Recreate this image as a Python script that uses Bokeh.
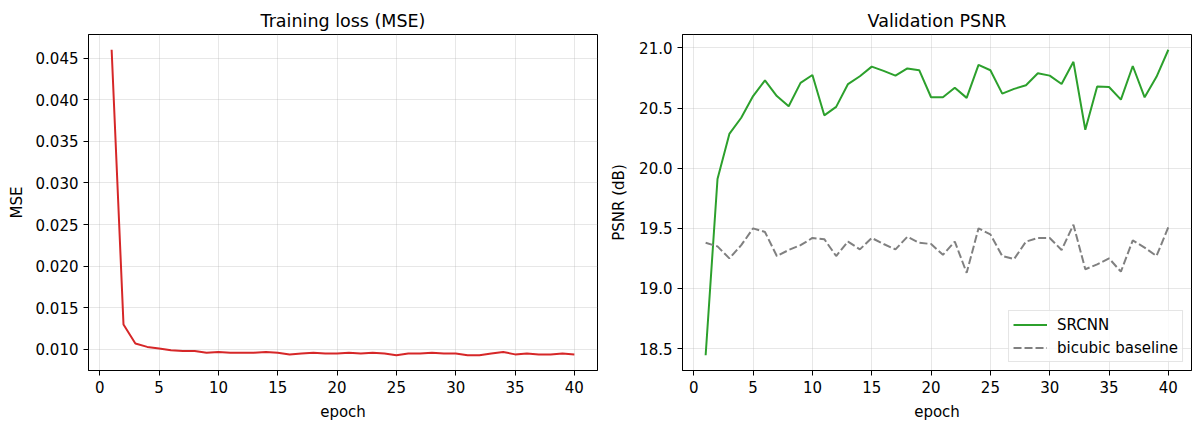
from bokeh.plotting import figure
from bokeh.layouts import row
from bokeh.models import Range1d, SingleIntervalTicker, FixedTicker, Legend, PrintfTickFormatter
from bokeh.embed import file_html
from bokeh.resources import INLINE

epochs = list(range(1, 41))

train_mse = [0.0460, 0.0130, 0.0107, 0.0103, 0.0101, 0.0099, 0.0098, 0.0098, 0.0096, 0.0097,
             0.0096, 0.0096, 0.0096, 0.0097, 0.0096, 0.0094, 0.0095, 0.0096, 0.0095, 0.0095,
             0.0096, 0.0095, 0.0096, 0.0095, 0.0093, 0.0095, 0.0095, 0.0096, 0.0095, 0.0095,
             0.0093, 0.0093, 0.0095, 0.0097, 0.0094, 0.0095, 0.0094, 0.0094, 0.0095, 0.0094]

srcnn_psnr = [18.445, 19.91, 20.285, 20.42, 20.60, 20.73, 20.60, 20.515, 20.71, 20.775,
              20.44, 20.51, 20.70, 20.765, 20.845, 20.81, 20.77, 20.83, 20.815, 20.59,
              20.59, 20.67, 20.585, 20.86, 20.815, 20.62, 20.66, 20.69, 20.79, 20.77,
              20.70, 20.885, 20.32, 20.68, 20.675, 20.57, 20.85, 20.59, 20.76, 20.985]

bicubic_psnr = [19.38, 19.35, 19.25, 19.36, 19.50, 19.47, 19.27, 19.32, 19.36, 19.42,
                19.41, 19.27, 19.39, 19.325, 19.42, 19.37, 19.325, 19.43, 19.38, 19.37,
                19.28, 19.39, 19.13, 19.50, 19.45, 19.27, 19.245, 19.39, 19.42, 19.42,
                19.32, 19.53, 19.16, 19.20, 19.25, 19.14, 19.40, 19.34, 19.27, 19.51]

FONT = "DejaVu Sans"


def padded(vals, frac=0.05):
    lo, hi = min(vals), max(vals)
    pad = (hi - lo) * frac
    return Range1d(lo - pad, hi + pad)


def style(p, title):
    p.title.text = title
    p.title.text_font = FONT
    p.title.text_font_size = "17.5px"
    p.title.text_font_style = "normal"
    p.title.text_color = "black"
    p.title.align = "center"
    p.title.standoff = 8
    p.outline_line_color = "black"
    p.outline_line_width = 1
    p.outline_line_alpha = 1
    for ax in (p.xaxis, p.yaxis):
        ax.axis_line_color = "black"
        ax.major_tick_line_color = "black"
        ax.major_tick_out = 5
        ax.major_tick_in = 0
        ax.minor_tick_line_color = None
        ax.major_label_text_font = FONT
        ax.major_label_text_font_size = "15px"
        ax.major_label_text_color = "black"
        ax.major_label_standoff = 5
        ax.axis_label_text_font = FONT
        ax.axis_label_text_font_size = "15px"
        ax.axis_label_text_font_style = "normal"
        ax.axis_label_text_color = "black"
        ax.axis_label_standoff = 7
    p.xaxis.ticker = SingleIntervalTicker(interval=5)
    p.xaxis.axis_label = "epoch"
    p.grid.grid_line_color = "#b0b0b0"
    p.grid.grid_line_alpha = 0.3
    p.grid.grid_line_width = 1


x_range = Range1d(epochs[0] - 0.05 * 39, epochs[-1] + 0.05 * 39)

p1 = figure(frame_width=509, frame_height=336, output_backend="svg", toolbar_location=None,
            x_range=x_range, y_range=padded(train_mse),
            min_border_left=88, min_border_right=10, min_border_top=34, min_border_bottom=50)
style(p1, "Training loss (MSE)")
p1.yaxis.ticker = FixedTicker(ticks=[0.010, 0.015, 0.020, 0.025, 0.030, 0.035, 0.040, 0.045])
p1.yaxis.formatter = PrintfTickFormatter(format="%.3f")
p1.yaxis.axis_label = "MSE"
p1.line(epochs, train_mse, line_color="#d62728", line_width=2)

p2 = figure(frame_width=509, frame_height=336, output_backend="svg", toolbar_location=None,
            x_range=Range1d(x_range.start, x_range.end),
            y_range=padded(srcnn_psnr + bicubic_psnr),
            min_border_left=71, min_border_right=5, min_border_top=34, min_border_bottom=50)
style(p2, "Validation PSNR")
p2.yaxis.ticker = FixedTicker(ticks=[18.5, 19.0, 19.5, 20.0, 20.5, 21.0])
p2.yaxis.formatter = PrintfTickFormatter(format="%.1f")
p2.yaxis.axis_label = "PSNR (dB)"
p2.yaxis.axis_label_standoff = 8
g = p2.line(epochs, srcnn_psnr, line_color="#2ca02c", line_width=2)
b = p2.line(epochs, bicubic_psnr, line_color="gray", line_width=2, line_dash="8 3")

legend = Legend(items=[("SRCNN", [g]), ("bicubic baseline", [b])],
                location="bottom_right", margin=8, padding=4, spacing=4,
                glyph_width=34, glyph_height=19, label_height=19,
                label_text_font=FONT, label_text_font_size="15px",
                label_text_color="black",
                border_line_color="#cccccc", border_line_width=1,
                background_fill_alpha=0.8, label_standoff=10)
p2.add_layout(legend, "center")

layout = row(p1, p2)
open("out.html", "w").write(file_html(layout, INLINE))
